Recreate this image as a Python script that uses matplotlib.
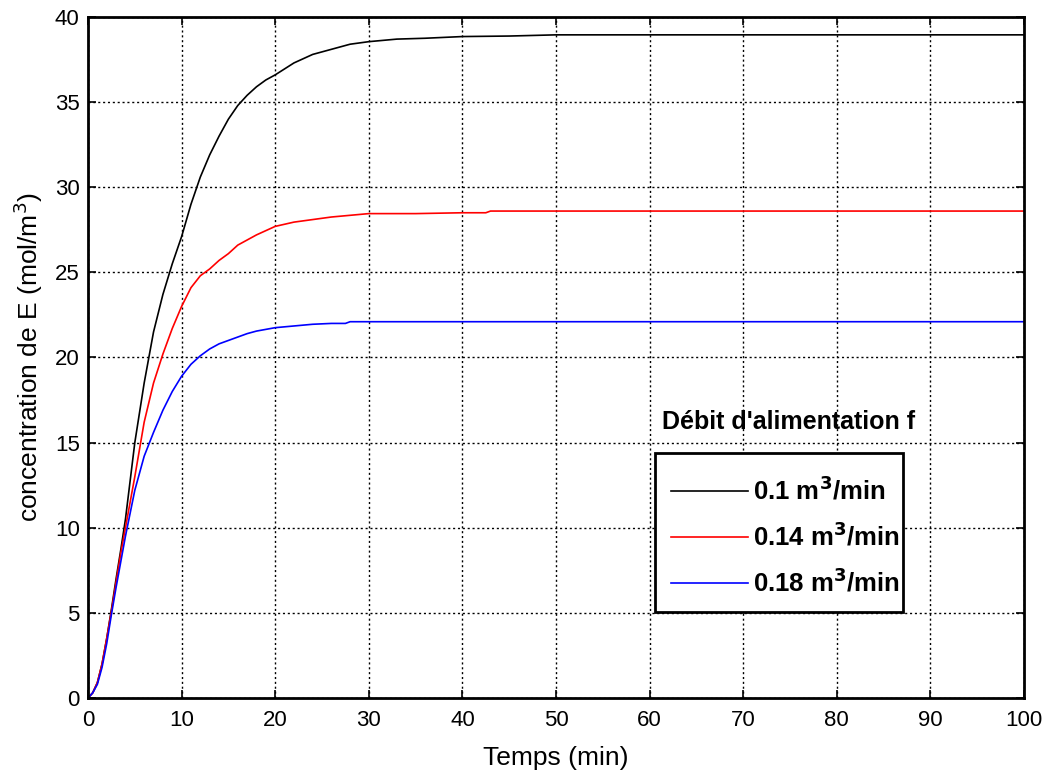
import numpy as np
import matplotlib.pyplot as plt
from matplotlib.patches import Rectangle

plt.rcParams['font.family'] = ['Liberation Sans', 'DejaVu Sans']

# courbes: temps (min) et concentration de E (mol/m3)
t_01 = [0, 0.5, 1, 1.5, 2, 2.5, 3, 3.5, 4, 5, 6, 7, 8, 9, 10, 11, 12, 13, 14, 15, 16,
        17, 18, 19, 20, 22, 24, 26, 28, 30, 33, 36, 40, 45, 50, 55, 100]
c_01 = [0, 0.3, 0.9, 2, 3.5, 5.2, 7, 8.7, 10.5, 15, 18.5, 21.5, 23.7, 25.5, 27.1, 29, 30.6,
        31.9, 33, 34, 34.8, 35.4, 35.9, 36.3, 36.6, 37.3, 37.8, 38.1, 38.4, 38.55, 38.7,
        38.75, 38.85, 38.88, 38.95, 38.95, 38.95]

t_014 = [0, 0.5, 1, 1.5, 2, 2.5, 3, 3.5, 4, 5, 6, 7, 8, 9, 10, 11, 12, 13, 14, 15, 16, 17,
         18, 20, 22, 24, 26, 28, 30, 35, 40, 42.5, 43, 100]
c_014 = [0, 0.3, 0.9, 2, 3.5, 5.1, 6.8, 8.5, 10, 13, 16.2, 18.5, 20.2, 21.7, 23, 24.1, 24.8,
         25.2, 25.7, 26.1, 26.6, 26.9, 27.2, 27.7, 27.95, 28.1, 28.25, 28.35, 28.45, 28.45,
         28.5, 28.5, 28.6, 28.6]

t_018 = [0, 0.5, 1, 1.5, 2, 2.5, 3, 3.5, 4, 5, 6, 7, 8, 9, 10, 11, 12, 13, 14, 15, 16, 17,
         18, 19, 20, 22, 24, 26, 27.5, 28, 100]
c_018 = [0, 0.3, 0.8, 1.8, 3.2, 4.9, 6.5, 8, 9.5, 12.2, 14.2, 15.6, 16.9, 18, 18.9, 19.6,
         20.1, 20.5, 20.8, 21.0, 21.2, 21.4, 21.55, 21.65, 21.75, 21.85, 21.95, 22.0, 22.0,
         22.1, 22.1]

labels = [r'0.1 m$^\mathbf{3}$/min', r'0.14 m$^\mathbf{3}$/min', r'0.18 m$^\mathbf{3}$/min']

fig = plt.figure(figsize=(10.49, 7.75), dpi=100)
ax = fig.add_axes([0.0839, 0.0994, 0.8923, 0.8787])

ax.plot(t_01, c_01, color='black', lw=1.2, label=labels[0])
ax.plot(t_014, c_014, color='red', lw=1.2, label=labels[1])
ax.plot(t_018, c_018, color='blue', lw=1.2, label=labels[2])

ax.set_xlim(0, 100)
ax.set_ylim(0, 40)
ax.set_xticks(np.arange(0, 101, 10))
ax.set_yticks(np.arange(0, 41, 5))
ax.grid(True, color='black', linestyle=(0, (1.5, 2)), linewidth=1.0)
ax.tick_params(direction='in', labelsize=16, length=6, width=1.2, top=True, right=True,
               labeltop=False, labelright=False)
ax.tick_params(axis='x', pad=9)
ax.tick_params(axis='y', pad=6)
for s in ax.spines.values():
    s.set_linewidth(2)

ax.set_xlabel('Temps (min)', fontsize=19)
ax.set_ylabel(r'concentration de E (mol/m$^3$)', fontsize=19)
ax.xaxis.set_label_coords(0.5, -0.07)
ax.yaxis.set_label_coords(-0.046, 0.5)

ax.text(0.613, 0.405, "Débit d'alimentation f", transform=ax.transAxes, fontsize=18,
        fontweight='bold', va='center', ha='left')

# cadre de la légende (style matlab)
ax.add_patch(Rectangle((0.6058, 0.1263), 0.2649, 0.2335, transform=ax.transAxes,
                       facecolor='white', edgecolor='black', lw=2, zorder=4))
leg = ax.legend(loc='upper left', bbox_to_anchor=(0.606, 0.348), borderaxespad=0,
                prop={'weight': 'bold', 'size': 18.5}, frameon=False,
                handlelength=3.0, labelspacing=0.68, borderpad=0.6, handletextpad=0.2)
leg.set_zorder(5)

fig.savefig('out.png', dpi=100)
